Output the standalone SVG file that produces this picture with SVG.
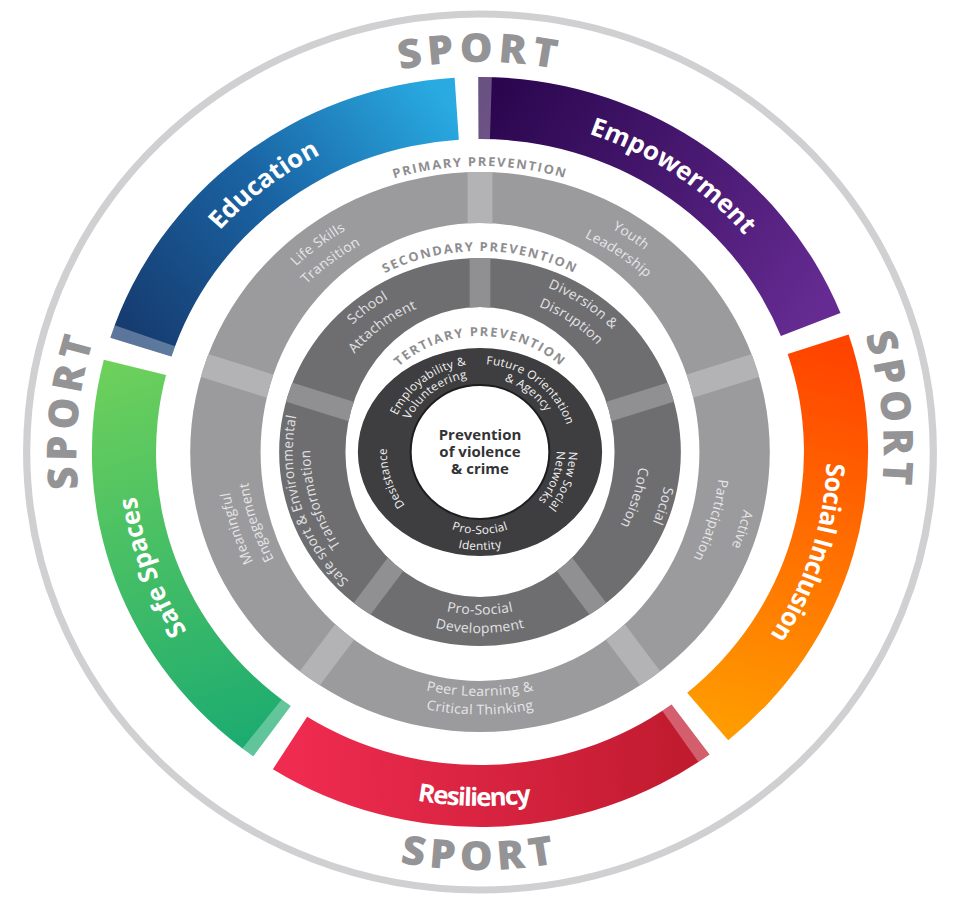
<svg xmlns="http://www.w3.org/2000/svg" width="953" height="900" viewBox="0 0 953 900">
<defs>
<style>
.lbl{font-family:"Open Sans","DejaVu Sans",sans-serif;font-size:13.5px;fill:#e6e6e8;letter-spacing:0.3px}
.l2{fill:#e2e2e4}
.ter{font-size:11.5px;fill:#f2f2f2}
.ttl{font-family:"Open Sans","DejaVu Sans",sans-serif;font-weight:700;font-size:12.5px;fill:#8e8e90;letter-spacing:1.6px}
.col{font-family:"Open Sans","DejaVu Sans",sans-serif;font-weight:700;font-size:25px;fill:#ffffff}
.sport{font-family:"Open Sans","DejaVu Sans",sans-serif;font-weight:800;font-size:40px;fill:#949496;letter-spacing:5px}
.ctr{font-family:"Open Sans","DejaVu Sans",sans-serif;font-weight:700;font-size:14.5px;fill:#333335}
.band{fill:#ffffff;fill-opacity:0.3}
</style>
<path id="pRing" fill-rule="evenodd" clip-rule="evenodd" d="M0,-280A280,280 0 1 1 0,280A280,280 0 1 1 0,-280Z M0,-229A212,229 0 1 0 0,229A212,229 0 1 0 0,-229Z"/>
<path id="sRing" fill-rule="evenodd" clip-rule="evenodd" d="M0,-194A194,194 0 1 1 0,194A194,194 0 1 1 0,-194Z M0,-145A130,145 0 1 0 0,145A130,145 0 1 0 0,-145Z"/>
<path id="tRing" fill-rule="evenodd" d="M0,-104A118,104 0 1 1 0,104A118,104 0 1 1 0,-104Z M0,-67A67,67 0 1 0 0,67A67,67 0 1 0 0,-67Z"/>
<clipPath id="cpP"><use href="#pRing"/></clipPath>
<clipPath id="cpS"><use href="#sRing"/></clipPath>
<path id="cw390" d="M0,390 A390,390 0 1 1 0,-390 A390,390 0 1 1 0,390"/>
<path id="cw335" d="M0,335 A335,335 0 1 1 0,-335 A335,335 0 1 1 0,335"/>
<path id="cw286" d="M0,286 A286,286 0 1 1 0,-286 A286,286 0 1 1 0,286"/>
<path id="cw261" d="M0,261 A261,261 0 1 1 0,-261 A261,261 0 1 1 0,261"/>
<path id="cw257" d="M0,257 A257,257 0 1 1 0,-257 A257,257 0 1 1 0,257"/>
<path id="cw245" d="M0,245 A245,245 0 1 1 0,-245 A245,245 0 1 1 0,245"/>
<path id="cw237" d="M0,237 A237,237 0 1 1 0,-237 A237,237 0 1 1 0,237"/>
<path id="cw232" d="M0,232 A232,232 0 1 1 0,-232 A232,232 0 1 1 0,232"/>
<path id="cw226" d="M0,226 A226,226 0 1 1 0,-226 A226,226 0 1 1 0,226"/>
<path id="cw201" d="M0,201 A201,201 0 1 1 0,-201 A201,201 0 1 1 0,201"/>
<path id="cw181" d="M0,181 A181,181 0 1 1 0,-181 A181,181 0 1 1 0,181"/>
<path id="cw177" d="M0,177 A177,177 0 1 1 0,-177 A177,177 0 1 1 0,177"/>
<path id="cw164" d="M0,164 A164,164 0 1 1 0,-164 A164,164 0 1 1 0,164"/>
<path id="cw156" d="M0,156 A156,156 0 1 1 0,-156 A156,156 0 1 1 0,156"/>
<path id="cw154" d="M0,154 A154,154 0 1 1 0,-154 A154,154 0 1 1 0,154"/>
<path id="cw116" d="M0,116 A116,116 0 1 1 0,-116 A116,116 0 1 1 0,116"/>
<path id="cw90" d="M0,90 A90,90 0 1 1 0,-90 A90,90 0 1 1 0,90"/>
<path id="cw88" d="M0,88 A88,88 0 1 1 0,-88 A88,88 0 1 1 0,88"/>
<path id="cw86" d="M0,86 A86,86 0 1 1 0,-86 A86,86 0 1 1 0,86"/>
<path id="cw75" d="M0,75 A75,75 0 1 1 0,-75 A75,75 0 1 1 0,75"/>
<path id="cw74" d="M0,74 A74,74 0 1 1 0,-74 A74,74 0 1 1 0,74"/>
<path id="ccw418" d="M0,-418 A418,418 0 1 0 0,418 A418,418 0 1 0 0,-418"/>
<path id="ccw354" d="M0,-354 A354,354 0 1 0 0,354 A354,354 0 1 0 0,-354"/>
<path id="ccw244" d="M0,-244 A244,244 0 1 0 0,244 A244,244 0 1 0 0,-244"/>
<path id="ccw262" d="M0,-262.5 A262.5,262.5 0 1 0 0,262.5 A262.5,262.5 0 1 0 0,-262.5"/>
<path id="ccw163" d="M0,-162.5 A162.5,162.5 0 1 0 0,162.5 A162.5,162.5 0 1 0 0,-162.5"/>
<path id="ccw181" d="M0,-181 A181,181 0 1 0 0,181 A181,181 0 1 0 0,-181"/>
<path id="ccw82" d="M0,-82 A82,82 0 1 0 0,82 A82,82 0 1 0 0,-82"/>
<path id="ccw98" d="M0,-98 A98,98 0 1 0 0,98 A98,98 0 1 0 0,-98"/>
<linearGradient id="gEdu" gradientUnits="userSpaceOnUse" x1="-327" y1="-106" x2="-24" y2="-343">
<stop offset="0" stop-color="#163c70"/><stop offset="0.5" stop-color="#1a64a4"/><stop offset="1" stop-color="#29abe2"/></linearGradient>
<linearGradient id="gEmp" gradientUnits="userSpaceOnUse" x1="0" y1="-344" x2="319" y2="-129">
<stop offset="0" stop-color="#2a064e"/><stop offset="1" stop-color="#652b92"/></linearGradient>
<linearGradient id="gSoc" gradientUnits="userSpaceOnUse" x1="327" y1="-106" x2="221" y2="263">
<stop offset="0" stop-color="#ff4400"/><stop offset="1" stop-color="#ff9a00"/></linearGradient>
<linearGradient id="gRes" gradientUnits="userSpaceOnUse" x1="-182" y1="292" x2="202" y2="278">
<stop offset="0" stop-color="#ef2b50"/><stop offset="1" stop-color="#c01b2f"/></linearGradient>
<linearGradient id="gSafe" gradientUnits="userSpaceOnUse" x1="-331" y1="-95" x2="-202" y2="278">
<stop offset="0" stop-color="#6dd05b"/><stop offset="1" stop-color="#1dac70"/></linearGradient>
</defs>
<rect width="953" height="900" fill="#ffffff"/>
<g transform="translate(480,452) scale(1.035,1)">
<g id="sport-ring">
<circle r="438" fill="none" stroke="#d0d0d2" stroke-width="7"/>
<text class="sport"><textPath href="#cw390" startOffset="50%" text-anchor="middle">SPORT</textPath></text>
<text class="sport" transform="rotate(84)"><textPath href="#cw390" startOffset="50%" text-anchor="middle">SPORT</textPath></text>
<text class="sport" transform="rotate(-84)"><textPath href="#cw390" startOffset="50%" text-anchor="middle">SPORT</textPath></text>
<text class="sport"><textPath href="#ccw418" startOffset="50%" text-anchor="middle">SPORT</textPath></text>
</g>
<g id="empowerment">
<path d="M-1.64,-375 A375,375 0 0 1 348.30,-138.96 L290.72,-115.99 A313,313 0 0 0 -1.37,-313 Z" fill="url(#gEmp)"/>
<path class="band" d="M-1.64,-375 A375,375 0 0 1 11.45,-374.82 L9.56,-312.85 A313,313 0 0 0 -1.37,-313 Z"/>
<text class="col" transform="rotate(34)"><textPath href="#cw335" startOffset="50%" text-anchor="middle">Empowerment</textPath></text>
</g>
<g id="social-inclusion">
<path d="M356.14,-117.44 A375,375 0 0 1 239.81,288.30 L200.16,240.63 A313,313 0 0 0 297.26,-98.02 Z" fill="url(#gSoc)"/>
<text class="col" transform="rotate(107.5)" style="letter-spacing:-0.6px"><textPath href="#cw335" startOffset="50%" text-anchor="middle">Social Inclusion</textPath></text>
</g>
<g id="resiliency">
<path d="M221.74,302.42 A375,375 0 0 1 -200.10,317.15 L-167.02,264.71 A313,313 0 0 0 185.08,252.42 Z" fill="url(#gRes)"/>
<path class="band" d="M221.74,302.42 A375,375 0 0 1 211.05,309.97 L176.16,258.72 A313,313 0 0 0 185.08,252.42 Z"/>
<text class="col" transform="rotate(1)" style="letter-spacing:-1.5px"><textPath href="#ccw354" startOffset="50%" text-anchor="middle">Resiliency</textPath></text>
</g>
<g id="safe-spaces">
<path d="M-219.09,304.34 A375,375 0 0 1 -363.46,-92.31 L-303.37,-77.04 A313,313 0 0 0 -182.87,254.02 Z" fill="url(#gSafe)"/>
<path class="band" d="M-219.09,304.34 A375,375 0 0 1 -229.58,296.51 L-191.62,247.49 A313,313 0 0 0 -182.87,254.02 Z"/>
<text class="col" transform="rotate(-110)"><textPath href="#cw335" startOffset="50%" text-anchor="middle">Safe Spaces</textPath></text>
</g>
<g id="education">
<path d="M-357.15,-114.32 A375,375 0 0 1 -24.53,-374.20 L-20.47,-312.33 A313,313 0 0 0 -298.10,-95.42 Z" fill="url(#gEdu)"/>
<path class="band" d="M-357.15,-114.32 A375,375 0 0 1 -352.94,-126.72 L-294.59,-105.77 A313,313 0 0 0 -298.10,-95.42 Z"/>
<text class="col" transform="rotate(-38)"><textPath href="#cw335" startOffset="50%" text-anchor="middle">Education</textPath></text>
</g>
<g id="primary-prevention">
<use href="#pRing" fill="#9b9b9d"/>
<g fill="#b3b3b5" clip-path="url(#cpP)">
<rect x="-12" y="-285" width="24" height="100"/>
<rect x="-12" y="-285" width="24" height="100" transform="rotate(72)"/>
<rect x="-12" y="-285" width="24" height="100" transform="rotate(144)"/>
<rect x="-12" y="-285" width="24" height="100" transform="rotate(216)"/>
<rect x="-12" y="-285" width="24" height="100" transform="rotate(288)"/>
</g>
<text class="ttl"><textPath href="#cw286" startOffset="50%" text-anchor="middle">PRIMARY PREVENTION</textPath></text>
<g class="lbl">
<text transform="rotate(-37)"><textPath href="#cw257" startOffset="50%" text-anchor="middle">Life Skills</textPath></text>
<text transform="rotate(-37)"><textPath href="#cw237" startOffset="50%" text-anchor="middle">Transition</textPath></text>
<text transform="rotate(34)"><textPath href="#cw257" startOffset="50%" text-anchor="middle">Youth</textPath></text>
<text transform="rotate(34)"><textPath href="#cw237" startOffset="50%" text-anchor="middle">Leadership</textPath></text>
<text transform="rotate(107)"><textPath href="#cw261" startOffset="50%" text-anchor="middle">Active</textPath></text>
<text transform="rotate(107)"><textPath href="#cw232" startOffset="50%" text-anchor="middle">Participation</textPath></text>
<text transform="rotate(-108)"><textPath href="#cw245" startOffset="50%" text-anchor="middle">Meaningful</textPath></text>
<text transform="rotate(-108)"><textPath href="#cw226" startOffset="50%" text-anchor="middle">Engagement</textPath></text>
<text><textPath href="#ccw244" startOffset="50%" text-anchor="middle">Peer Learning &amp;</textPath></text>
<text><textPath href="#ccw262" startOffset="50%" text-anchor="middle">Critical Thinking</textPath></text>
</g>
</g>
<g id="secondary-prevention">
<use href="#sRing" fill="#6e6e71"/>
<g fill="#909093" clip-path="url(#cpS)">
<rect x="-10" y="-200" width="20" height="100"/>
<rect x="-10" y="-200" width="20" height="100" transform="rotate(72)"/>
<rect x="-10" y="-200" width="20" height="100" transform="rotate(144)"/>
<rect x="-10" y="-200" width="20" height="100" transform="rotate(216)"/>
<rect x="-10" y="-200" width="20" height="100" transform="rotate(288)"/>
</g>
<text class="ttl"><textPath href="#cw201" startOffset="50%" text-anchor="middle">SECONDARY PREVENTION</textPath></text>
<g class="lbl l2">
<text transform="rotate(-37)"><textPath href="#cw177" startOffset="50%" text-anchor="middle">School</textPath></text>
<text transform="rotate(-37)"><textPath href="#cw156" startOffset="50%" text-anchor="middle">Attachment</textPath></text>
<text transform="rotate(34)"><textPath href="#cw177" startOffset="50%" text-anchor="middle">Diversion &amp;</textPath></text>
<text transform="rotate(34)"><textPath href="#cw156" startOffset="50%" text-anchor="middle">Disruption</textPath></text>
<text transform="rotate(107)"><textPath href="#cw181" startOffset="50%" text-anchor="middle">Social</textPath></text>
<text transform="rotate(107)"><textPath href="#cw154" startOffset="50%" text-anchor="middle">Cohesion</textPath></text>
<text transform="rotate(-107)"><textPath href="#cw181" startOffset="50%" text-anchor="middle">Safe sport &amp; Environmental</textPath></text>
<text transform="rotate(-107)"><textPath href="#cw164" startOffset="50%" text-anchor="middle">Transformation</textPath></text>
<text><textPath href="#ccw163" startOffset="50%" text-anchor="middle">Pro-Social</textPath></text>
<text><textPath href="#ccw181" startOffset="50%" text-anchor="middle">Development</textPath></text>
</g>
</g>
<g id="tertiary-prevention">
<use href="#tRing" fill="#3e3e40"/>
<text class="ttl"><textPath href="#cw116" startOffset="50%" text-anchor="middle">TERTIARY PREVENTION</textPath></text>
<g class="lbl ter">
<text transform="rotate(-37)"><textPath href="#cw88" startOffset="50%" text-anchor="middle">Employability &amp;</textPath></text>
<text transform="rotate(-37)"><textPath href="#cw75" startOffset="50%" text-anchor="middle">Volunteering</textPath></text>
<text transform="rotate(38)"><textPath href="#cw88" startOffset="50%" text-anchor="middle">Future Orientation</textPath></text>
<text transform="rotate(38)"><textPath href="#cw75" startOffset="50%" text-anchor="middle">&amp; Agency</textPath></text>
<text transform="rotate(110)"><textPath href="#cw86" startOffset="50%" text-anchor="middle">New Social</textPath></text>
<text transform="rotate(110)"><textPath href="#cw74" startOffset="50%" text-anchor="middle">Networks</textPath></text>
<text transform="rotate(-107)"><textPath href="#cw90" startOffset="50%" text-anchor="middle">Desistance</textPath></text>
<text><textPath href="#ccw82" startOffset="50%" text-anchor="middle">Pro-Social</textPath></text>
<text><textPath href="#ccw98" startOffset="50%" text-anchor="middle">Identity</textPath></text>
</g>
</g>
<g id="core">
<circle r="67" fill="#ffffff" stroke="#1e1e20" stroke-width="2"/>
<text class="ctr" text-anchor="middle" y="-12">Prevention</text>
<text class="ctr" text-anchor="middle" y="5">of violence</text>
<text class="ctr" text-anchor="middle" y="22">&amp; crime</text>
</g>
</g>
<g id="connectors"/>
</svg>
